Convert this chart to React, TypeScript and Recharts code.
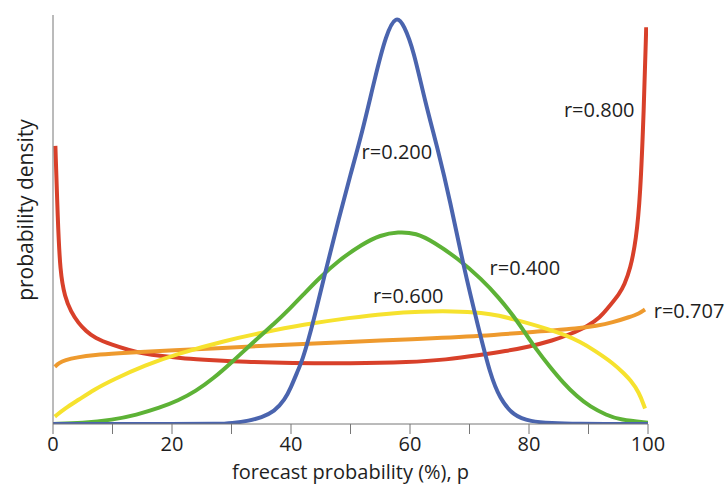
import React from "react"
import { LineChart, Line, XAxis, YAxis, Label, ReferenceDot } from "recharts"

// density curves of forecast probability p (%) for several correlations r
// each entry is [p, density]
const curveR800: [number, number][] = [
  [0.4, 68], [0.8, 50], [1.2, 37], [2, 31], [3, 27.5], [4.3, 24.6], [5.5, 22.8],
  [7, 21], [10, 19.3], [12.7, 18.1], [15, 17.3], [18.3, 16.6], [22, 16], [27, 15.6],
  [32, 15.2], [40, 14.9], [50, 14.8], [60, 15.1], [66, 15.7], [72, 16.9], [76, 17.8],
  [80, 18.9], [84, 20.4], [87, 22], [90, 24], [92, 26.2], [93, 27.9], [95.3, 32],
  [96, 34], [97, 37.7], [98, 45], [98.7, 55.6], [99.3, 76.8], [99.7, 97],
]

const curveR707: [number, number][] = [
  [0.3, 14], [1, 14.9], [2, 15.6], [4, 16.3], [7, 16.9], [11, 17.3], [15.5, 17.7],
  [20, 18], [27, 18.5], [38, 19.3], [50, 20.1], [60, 20.7], [72, 21.5], [83, 22.8],
  [88, 23.3], [91.4, 24], [94, 24.8], [97, 26.2], [98.5, 27], [99.5, 28],
]

const curveR600: [number, number][] = [
  [0.3, 1.8], [2, 3.8], [4.3, 5.9], [7, 8.5], [10, 10.8], [15.5, 14.4], [21, 17.2],
  [29, 20.4], [35, 22.3], [42, 24.3], [50, 26], [56, 27], [62, 27.5], [67, 27.6],
  [72.4, 27.2], [75, 26.5], [77.4, 25.6], [80, 24.6], [83, 23.3], [86, 21.8],
  [88.6, 20.1], [91, 18], [94.2, 14.8], [96, 12.3], [97, 10.8], [98.5, 7.8], [99.5, 3.8],
]

const curveR400: [number, number][] = [
  [0, 0], [5, 0.2], [10, 1], [14, 2.2], [18, 4], [21, 5.7], [24, 8], [27, 11.2],
  [30, 15], [34, 20.5], [37.2, 24.5], [40, 28.5], [42, 31.5], [44.6, 35.5], [48, 40],
  [52, 44], [55, 46.2], [58, 47], [61, 46.7], [64, 44.5], [68, 40.5], [72, 35.5], [75, 30.8],
  [77.4, 26.4], [79.3, 22.4], [81.3, 18.1], [83.5, 14], [85.8, 10], [88, 6.8],
  [90.3, 4.2], [93, 2.2], [95.3, 1], [100, 0.3],
]

const curveR200: [number, number][] = [
  [0, 0], [10, 0], [20, 0], [28, 0], [30, 0.2], [33, 0.8], [35, 1.6], [37.2, 3],
  [39, 6], [40, 9], [41, 12.5], [42, 16], [43, 21], [44, 26.5], [46, 38.5], [48, 50],
  [50, 61], [52, 71.5], [54, 84], [56, 95.5], [57.7, 100], [59, 97.5], [60.6, 91.4],
  [62.5, 79], [64.8, 66.5], [66.7, 54.8], [69, 38.5], [71.5, 23.5], [73.5, 12],
  [75.1, 6.2], [77.4, 2], [80.2, 0.6], [84, 0.2], [87, 0], [100, 0],
]

const xTicks = [0, 10, 20, 30, 40, 50, 60, 70, 80, 90, 100]

const series = [
  { name: "r=0.800", points: curveR800, color: "#d8402a" },
  { name: "r=0.707", points: curveR707, color: "#ee9a2e" },
  { name: "r=0.600", points: curveR600, color: "#f6e22e" },
  { name: "r=0.400", points: curveR400, color: "#5db236" },
  { name: "r=0.200", points: curveR200, color: "#4a64ae" },
]

// where each r= label sits, in data units
const curveLabels = [
  { text: "r=0.200", p: 57.8, v: 66.5 },
  { text: "r=0.400", p: 79.3, v: 38.1 },
  { text: "r=0.600", p: 59.7, v: 31.3 },
  { text: "r=0.800", p: 91.8, v: 76.8 },
  { text: "r=0.707", p: 106.9, v: 27.6 },
]

const FONT = "'Open Sans', sans-serif"
const INK = "#1e1e1e"

const toRows = (pts: [number, number][]) => pts.map(([p, v]) => ({ p, v }))

function YTitle() {
  const cx = 25
  const cy = 210
  return (
    <text
      x={cx}
      y={cy}
      transform={`rotate(-90 ${cx} ${cy})`}
      textAnchor="middle"
      dominantBaseline="central"
      fontFamily={FONT}
      fontSize={21}
      fill={INK}
    >
      probability density
    </text>
  )
}

export default function App() {
  return (
    <div style={{ position: "absolute", left: 0, top: 0, background: "#fff" }}>
      <LineChart width={726} height={489} margin={{ top: 15, right: 78, bottom: 6, left: 33 }}>
        <XAxis
          type="number"
          dataKey="p"
          domain={[0, 100]}
          ticks={xTicks}
          tickFormatter={(t: number) => (t % 20 === 0 ? String(t) : "")}
          tickSize={10}
          tickMargin={3}
          height={59}
          stroke="#777"
          tick={{ fill: INK, fontSize: 20, fontFamily: FONT }}
          allowDataOverflow
        >
          <Label
            value="forecast probability (%), p"
            position="insideBottom"
            offset={4}
            fill={INK}
            fontSize={20}
            fontFamily={FONT}
          />
        </XAxis>
        <YAxis
          type="number"
          domain={[0, 100]}
          width={20}
          tick={false}
          tickLine={false}
          stroke="#777"
          allowDataOverflow
        >
          <Label content={YTitle} />
        </YAxis>
        {series.map((s) => (
          <Line
            key={s.name}
            data={toRows(s.points)}
            dataKey="v"
            type="basis"
            stroke={s.color}
            strokeWidth={4}
            dot={false}
            activeDot={false}
            isAnimationActive={false}
          />
        ))}
        {curveLabels.map((l) => (
          <ReferenceDot
            key={l.text}
            x={l.p}
            y={l.v}
            r={0}
            ifOverflow="visible"
            label={{ value: l.text, position: "center", fill: INK, fontSize: 20, fontFamily: FONT }}
          />
        ))}
      </LineChart>
    </div>
  )
}
